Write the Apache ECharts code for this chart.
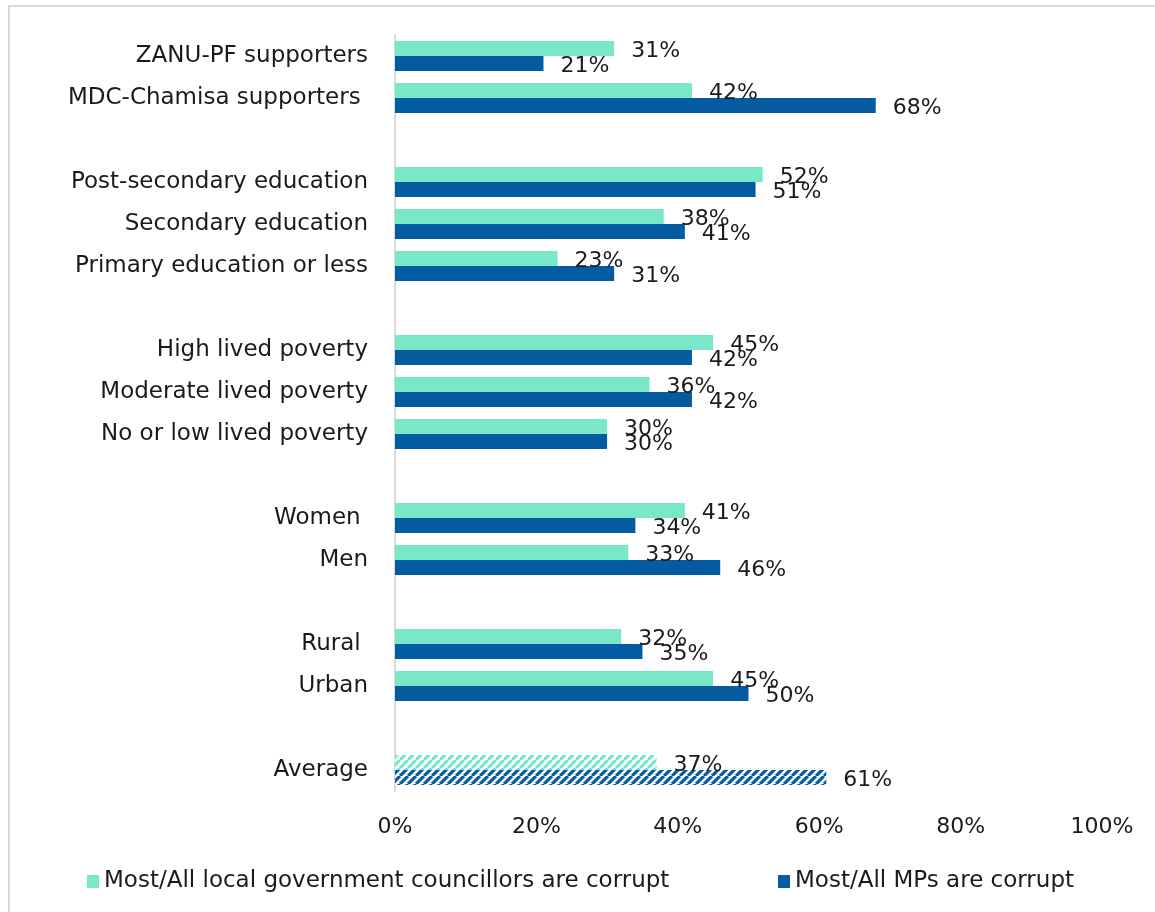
<!DOCTYPE html>
<html>
<head>
<meta charset="utf-8">
<script src="https://cdn.jsdelivr.net/npm/echarts@6/dist/echarts.min.js"></script>
<style>
  html, body { margin: 0; padding: 0; background: #ffffff; }
  #chart { width: 1155px; height: 912px; }
</style>
</head>
<body>
<div id="chart"></div>
<script>
// Group rows, top to bottom; empty strings are spacer rows between groups.
const categories = [
  'ZANU-PF supporters', 'MDC-Chamisa supporters ', '',
  'Post-secondary education', 'Secondary education', 'Primary education or less', '',
  'High lived poverty', 'Moderate lived poverty', 'No or low lived poverty', '',
  'Women ', 'Men', '',
  'Rural ', 'Urban', '',
  'Average'
];
// Percent saying most/all local government councillors are corrupt
const councillors = [31, 42, null, 52, 38, 23, null, 45, 36, 30, null, 41, 33, null, 32, 45, null, 37];
// Percent saying most/all MPs are corrupt
const mps = [21, 68, null, 51, 41, 31, null, 42, 42, 30, null, 34, 46, null, 35, 50, null, 61];
const xTicks = [0, 20, 40, 60, 80, 100];
const seriesNames = ['Most/All local government councillors are corrupt', 'Most/All MPs are corrupt'];

const GREEN = '#78e8c9';
const BLUE = '#045ba1';
const FONT = 'DejaVu Sans';
const TEXT = '#1a1a1a';

// Diagonal hatch fill used for the Average row
function hatch(color) {
  const s = 8;
  const c = document.createElement('canvas');
  c.width = s; c.height = s;
  const g = c.getContext('2d');
  g.fillStyle = '#ffffff';
  g.fillRect(0, 0, s, s);
  g.strokeStyle = color;
  g.lineWidth = 3.2;
  g.beginPath();
  for (let k = -s; k <= 2 * s; k += s) {
    g.moveTo(k, s);
    g.lineTo(k + s, 0);
  }
  g.stroke();
  return { image: c, repeat: 'repeat' };
}

function toData(values, color) {
  return values.map((v, i) => {
    if (v === null) return '-';
    if (categories[i] === 'Average') {
      return { value: v, itemStyle: { color: hatch(color) } };
    }
    return v;
  });
}

const labelStyle = {
  show: true,
  position: 'right',
  distance: 17,
  offset: [0, 3],
  formatter: p => p.value + '%',
  fontFamily: FONT,
  fontSize: 22,
  color: TEXT
};

const legendText = { fontFamily: FONT, fontSize: 23, color: TEXT };

const chart = echarts.init(document.getElementById('chart'), null, { renderer: 'canvas' });
chart.setOption({
  animation: false,
  backgroundColor: '#ffffff',
  graphic: [{
    type: 'rect',
    shape: { x: 9, y: 6, width: 1300, height: 1000 },
    style: { fill: 'none', stroke: '#d9d9d9', lineWidth: 2 },
    silent: true
  }],
  grid: { left: 395, right: 53, top: 35, bottom: 121 },
  legend: [
    {
      bottom: 14, left: 82, icon: 'rect', itemWidth: 12, itemHeight: 13, itemGap: 6,
      textStyle: legendText, data: [seriesNames[0]]
    },
    {
      bottom: 14, left: 773, icon: 'rect', itemWidth: 12, itemHeight: 13, itemGap: 6,
      textStyle: legendText, data: [seriesNames[1]]
    }
  ],
  xAxis: {
    type: 'value',
    min: xTicks[0],
    max: xTicks[xTicks.length - 1],
    interval: xTicks[1] - xTicks[0],
    axisLine: { show: false },
    axisTick: { show: false },
    splitLine: { show: false },
    axisLabel: {
      formatter: v => v + '%',
      fontFamily: FONT,
      fontSize: 22,
      color: TEXT,
      margin: 25
    }
  },
  yAxis: {
    type: 'category',
    inverse: true,
    data: categories,
    axisLine: { show: true, lineStyle: { color: '#d9d9d9', width: 2 } },
    axisTick: { show: false },
    axisLabel: {
      fontFamily: FONT,
      fontSize: 23,
      color: TEXT,
      margin: 27,
      padding: [4, 0, 0, 0]
    }
  },
  series: [
    {
      name: seriesNames[0],
      type: 'bar',
      data: toData(councillors, GREEN),
      itemStyle: { color: GREEN },
      barWidth: 15,
      barGap: '0%',
      label: labelStyle
    },
    {
      name: seriesNames[1],
      type: 'bar',
      data: toData(mps, BLUE),
      itemStyle: { color: BLUE },
      barWidth: 15,
      barGap: '0%',
      label: labelStyle
    }
  ]
});
</script>
</body>
</html>
